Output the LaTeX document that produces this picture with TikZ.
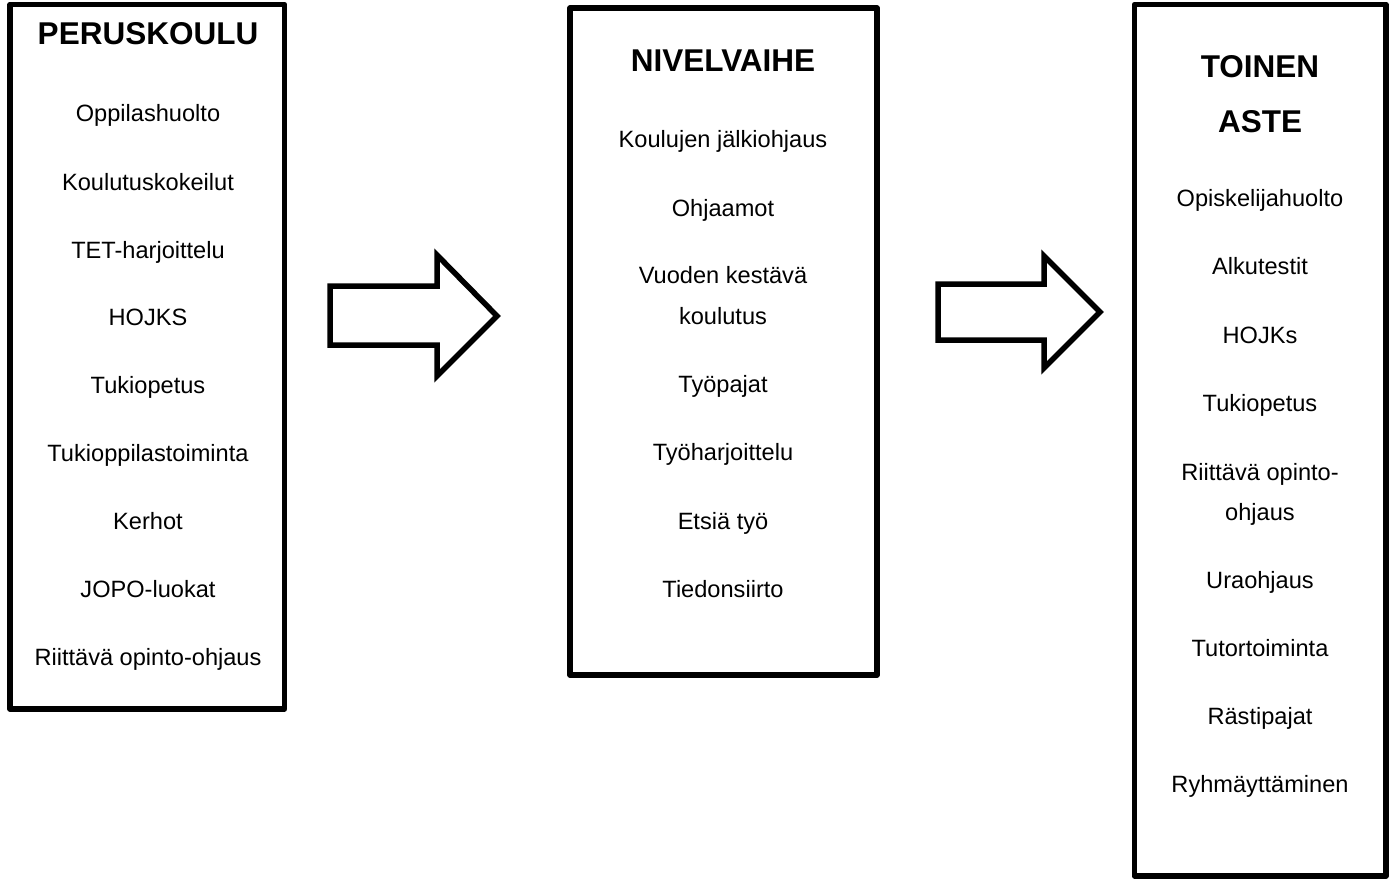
\documentclass[tikz,border=0pt]{standalone}
\usepackage{fontspec}
\setmainfont{Liberation Sans}
\begin{document}
\begin{tikzpicture}[x=1pt,y=-1pt,
  frame/.style={draw=black,line width=5.5pt,line join=round,fill=white},
  blockarrow/.style={draw=black,line width=5.5pt,line join=miter,fill=white},
  item/.style={anchor=base,inner sep=0pt,font=\fontsize{23.6}{28}\selectfont},
  head/.style={anchor=base,inner sep=0pt,font=\fontsize{31.5}{36}\selectfont\bfseries}]
\useasboundingbox (0,0) rectangle (1394,879);
% boxes
\draw[frame] (10,4.5) rectangle (284.5,709);
\draw[frame] (570,8) rectangle (877,675);
\draw[frame] (1134.5,4.5) rectangle (1386,876);
% arrows
\draw[blockarrow] (330,286) -- (437,286) -- (437,255) -- (497,316) -- (437,376) -- (437,345) -- (330,345) -- cycle;
\draw[blockarrow] (938,284) -- (1044,284) -- (1044,256) -- (1100,312) -- (1044,368) -- (1044,340) -- (938,340) -- cycle;
% box 1
\node[head] (p0) at (148,44.5) {PERUSKOULU};
\node[item] (p1) at (148,121.5) {Oppilashuolto};
\node[item] (p2) at (148,190.5) {Koulutuskokeilut};
\node[item] (p3) at (148,258.5) {TET-harjoittelu};
\node[item] (p4) at (148,325.5) {HOJKS};
\node[item] (p5) at (148,393.5) {Tukiopetus};
\node[item] (p6) at (148,461.5) {Tukioppilastoiminta};
\node[item] (p7) at (148,529.5) {Kerhot};
\node[item] (p8) at (148,597.5) {JOPO-luokat};
\node[item] (p9) at (148,665.5) {Riittävä opinto-ohjaus};
% box 2
\node[head] (n0) at (723,71.5) {NIVELVAIHE};
\node[item] (n1) at (723,147.5) {Koulujen jälkiohjaus};
\node[item] (n2) at (723,216.5) {Ohjaamot};
\node[item] (n3) at (723,283.5) {Vuoden kestävä};
\node[item] (n4) at (723,324.5) {koulutus};
\node[item] (n5) at (723,392.5) {Työpajat};
\node[item] (n6) at (723,460.5) {Työharjoittelu};
\node[item] (n7) at (723,529.5) {Etsiä työ};
\node[item] (n8) at (723,597.5) {Tiedonsiirto};
% box 3
\node[head] (t0) at (1260,77.5) {TOINEN};
\node[head] (t1) at (1260,132.5) {ASTE};
\node[item] (t2) at (1260,206.5) {Opiskelijahuolto};
\node[item] (t3) at (1260,274.5) {Alkutestit};
\node[item] (t4) at (1260,343.5) {HOJKs};
\node[item] (t5) at (1260,411.5) {Tukiopetus};
\node[item] (t6) at (1260,480.5) {Riittävä opinto-};
\node[item] (t7) at (1260,520.5) {ohjaus};
\node[item] (t8) at (1260,588.5) {Uraohjaus};
\node[item] (t9) at (1260,656.5) {Tutortoiminta};
\node[item] (t10) at (1260,724.5) {Rästipajat};
\node[item] (t11) at (1260,792.5) {Ryhmäyttäminen};
\end{tikzpicture}
\end{document}
